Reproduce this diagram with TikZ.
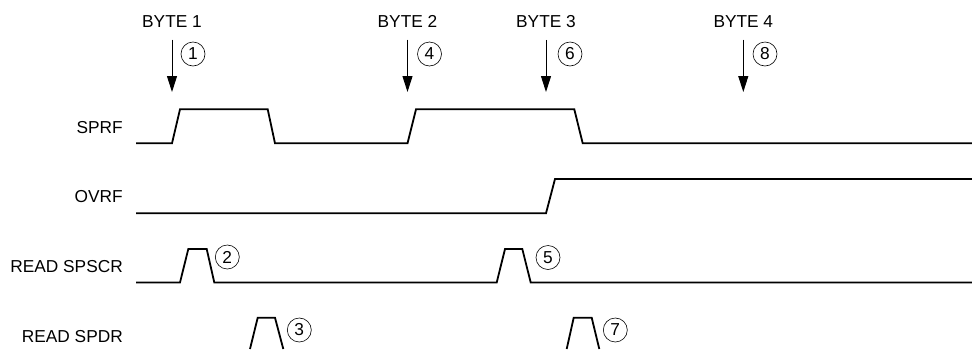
\documentclass[tikz,border=0pt]{standalone}
\usepackage{fontspec}
\setmainfont{Liberation Sans}
\usetikzlibrary{arrows.meta,positioning}

\begin{document}
\begin{tikzpicture}[x=1pt, y=-1pt,
    every node/.style={font=\fontsize{17.3}{20}\selectfont},
    siglabel/.style={anchor=east, inner sep=0pt},
    bytelabel/.style={inner sep=0pt},
    stepnum/.style={draw, circle, line width=0.6pt, minimum size=24pt, inner sep=0pt},
    wave/.style={line width=1.8pt},
    bytearrow/.style={-{Triangle[length=16pt,width=10pt]}, line width=1pt, shorten <=12pt}]
    \useasboundingbox (0,0) rectangle (972,349);

    % signal names
    \node[siglabel] (sprf) at (123,128) {SPRF};
    \node[siglabel] (ovrf) at (123,197) {OVRF};
    \node[siglabel] (spscr) at (123,267) {READ SPSCR};
    \node[siglabel] (spdr) at (123,337) {READ SPDR};

    % bytes and their arrows
    \node[bytelabel] (byte1) at (172,21.5) {BYTE 1};
    \node[bytelabel] (byte2) at (407.5,21.5) {BYTE 2};
    \node[bytelabel] (byte3) at (546,21.5) {BYTE 3};
    \node[bytelabel] (byte4) at (743.3,21.5) {BYTE 4};
    \coordinate (tip1) at (172,92);
    \coordinate (tip2) at (407.5,92);
    \coordinate (tip3) at (546,92);
    \coordinate (tip4) at (743.3,92);
    \draw[bytearrow] (byte1.south) -- (tip1);
    \draw[bytearrow] (byte2.south) -- (tip2);
    \draw[bytearrow] (byte3.south) -- (tip3);
    \draw[bytearrow] (byte4.south) -- (tip4);

    % numbered steps
    \node[stepnum] (n1) at (193,54) {1};
    \node[stepnum] (n2) at (227.3,257) {2};
    \node[stepnum] (n3) at (299.3,330) {3};
    \node[stepnum] (n4) at (429.5,54) {4};
    \node[stepnum] (n5) at (548,257.5) {5};
    \node[stepnum] (n6) at (570,54) {6};
    \node[stepnum] (n7) at (615.3,330) {7};
    \node[stepnum] (n8) at (765,54) {8};

    % waveforms
    \draw[wave] (136,143.3) -- (172,143.3) -- (180,109.3) -- (267.7,109.3) -- (275,143.3)
        -- (407.5,143.3) -- (416,109.3) -- (574.3,109.3) -- (582.7,143.3) -- (972,143.3);
    \draw[wave] (136,213.3) -- (546,213.3) -- (555,179) -- (972,179);
    \draw[wave] (136,282.5) -- (180,282.5) -- (188.3,249) -- (206.7,249) -- (214.3,282.5)
        -- (496.7,282.5) -- (505,249) -- (522.3,249) -- (530.7,282.5) -- (972,282.5);
    \draw[wave] (250,349) -- (257.7,317.7) -- (275,317.7) -- (283.3,349);
    \draw[wave] (566.7,349) -- (573.7,317.7) -- (591.7,317.7) -- (599.3,349);
\end{tikzpicture}
\end{document}
